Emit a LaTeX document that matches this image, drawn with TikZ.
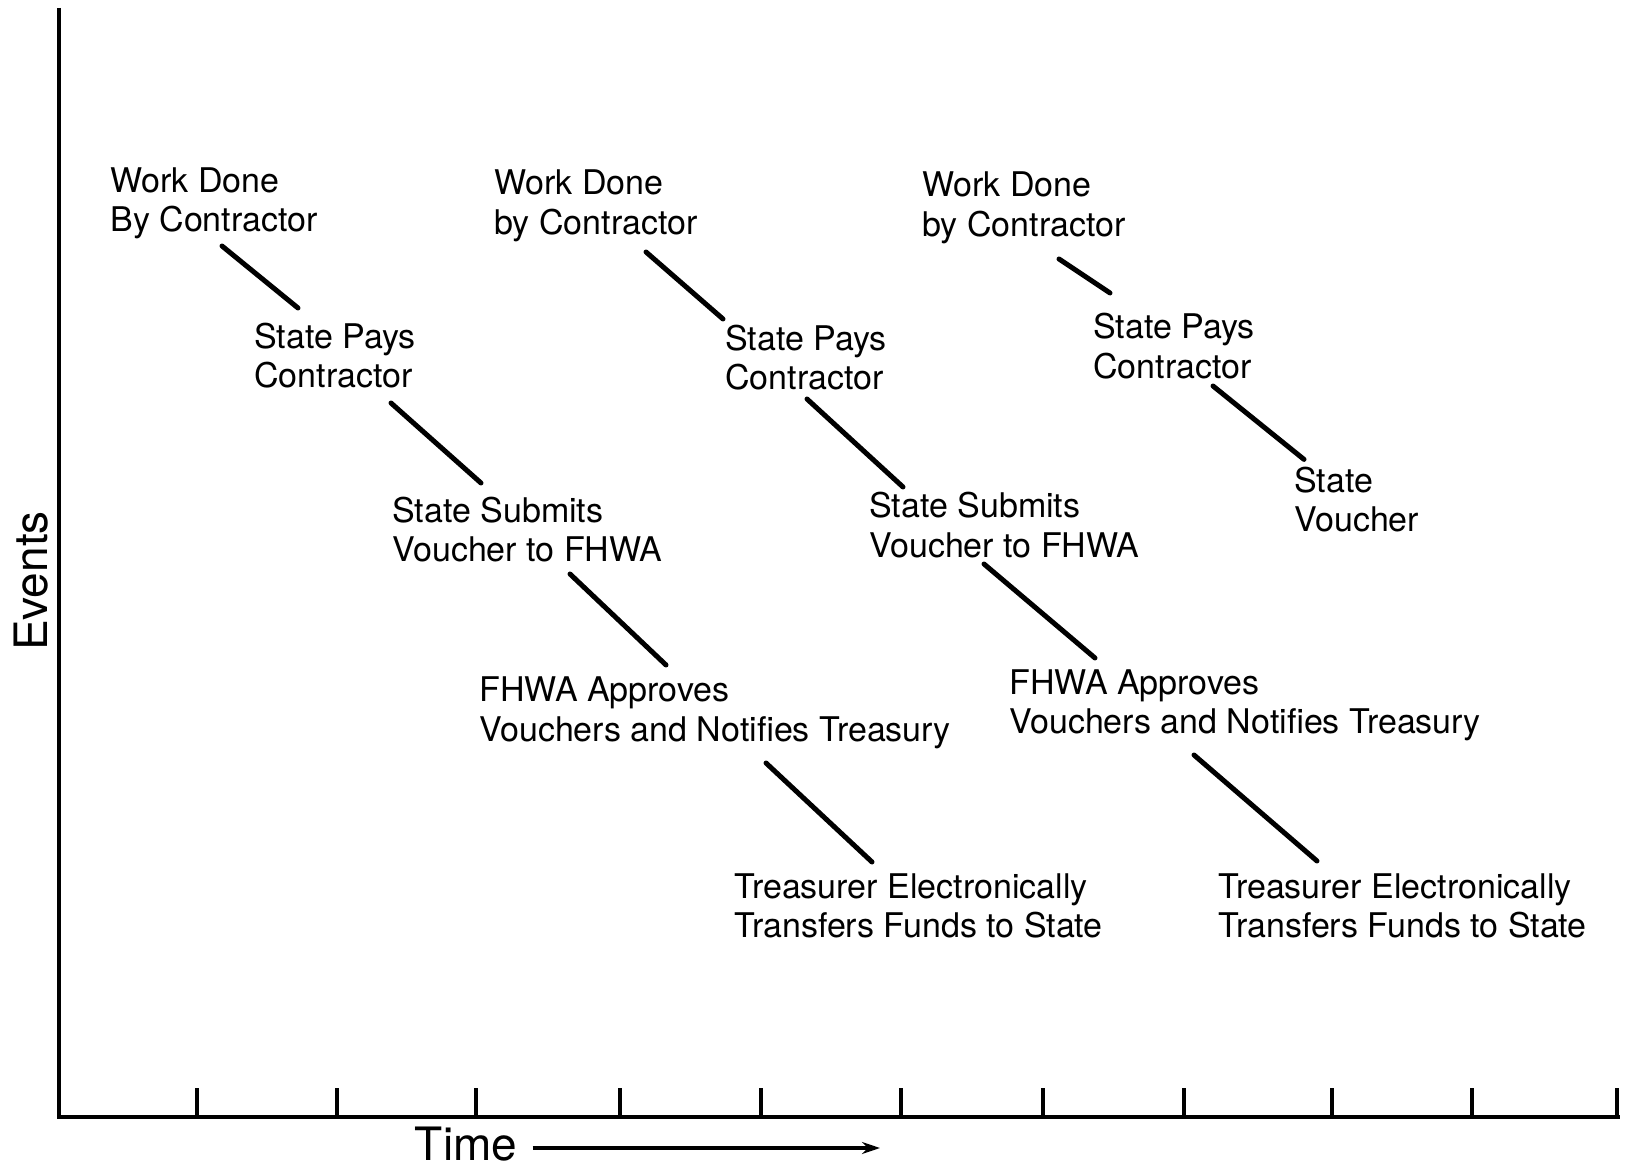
\documentclass[tikz,border=0pt]{standalone}
\usepackage{fontspec}
\setmainfont{TeX Gyre Heros}
\usetikzlibrary{arrows.meta}
\begin{document}
\begin{tikzpicture}[x=0.5pt,y=-0.5pt,
  ev/.style={anchor=west, align=left, inner sep=0pt, font=\fontsize{17}{19.75}\selectfont},
  link/.style={line width=2.5pt, line cap=round},
  axisline/.style={line width=2.1pt},
  tickline/.style={line width=1.8pt},
  axlabel/.style={inner sep=0pt, font=\fontsize{23}{28}\selectfont}]

\useasboundingbox (0,0) rectangle (1628,1170);

% axes
\coordinate (O) at (59,1117);
\coordinate (Ytop) at (59,8);
\coordinate (Xend) at (1620,1117);
\draw[axisline] (Ytop) -- (O) -- (Xend);
\foreach \t in {197,337,476,620,761,901,1043,1184,1332,1472,1617}
  \draw[tickline] (\t,1117) -- (\t,1088);

\node[axlabel, rotate=90] (events) at (31,581) {Events};
\node[axlabel] (time) at (466,1144) {Time};
\coordinate (arrEnd) at (880,1148);
\draw[line width=1.7pt, -{Stealth[length=9pt,width=6pt]}] ([shift={(15,4)}]time.east) -- (arrEnd);

% column 1
\node[ev] (a1) at (110,203.5) {Work Done\\By Contractor};
\node[ev] (b1) at (254,355.6) {State Pays\\Contractor};
\node[ev] (c1) at (392,529.5) {State Submits\\Voucher to FHWA};
\node[ev] (d1) at (479,713) {FHWA Approves\\Vouchers and Notifies Treasury};
\node[ev] (e1) at (734,906) {Treasurer Electronically\\Transfers Funds to State};

% column 2
\node[ev] (a2) at (494,205.6) {Work Done\\by Contractor};
\node[ev] (b2) at (725,357.7) {State Pays\\Contractor};
\node[ev] (c2) at (869,525) {State Submits\\Voucher to FHWA};
\node[ev] (d2) at (1009,705.5) {FHWA Approves\\Vouchers and Notifies Treasury};
\node[ev] (e2) at (1218,906) {Treasurer Electronically\\Transfers Funds to State};

% column 3
\node[ev] (a3) at (922,207.7) {Work Done\\by Contractor};
\node[ev] (b3) at (1093,346) {State Pays\\Contractor};
\node[ev] (c3) at (1294,499.4) {State\\Voucher};

% connectors column 1
\draw[link] ([shift={(112,42.5)}]a1.west) -- ([shift={(44,-47.6)}]b1.west);
\draw[link] ([shift={(137,47.4)}]b1.west) -- ([shift={(89,-46.5)}]c1.west);
\draw[link] ([shift={(178,44.5)}]c1.west) -- ([shift={(187,-48)}]d1.west);
\draw[link] ([shift={(287,50)}]d1.west) -- ([shift={(138,-44)}]e1.west);

% connectors column 2
\draw[link] ([shift={(152,46.4)}]a2.west) -- ([shift={(-2,-38.7)}]b2.west);
\draw[link] ([shift={(82,41.3)}]b2.west) -- ([shift={(34,-38)}]c2.west);
\draw[link] ([shift={(115,39)}]c2.west) -- ([shift={(86,-47.5)}]d2.west);
\draw[link] ([shift={(185,49.5)}]d2.west) -- ([shift={(99,-45)}]e2.west);

% connectors column 3
\draw[link] ([shift={(137,51.3)}]a3.west) -- ([shift={(17,-53)}]b3.west);
\draw[link] ([shift={(120,40)}]b3.west) -- ([shift={(10,-40)}]c3.west);

\end{tikzpicture}
\end{document}
